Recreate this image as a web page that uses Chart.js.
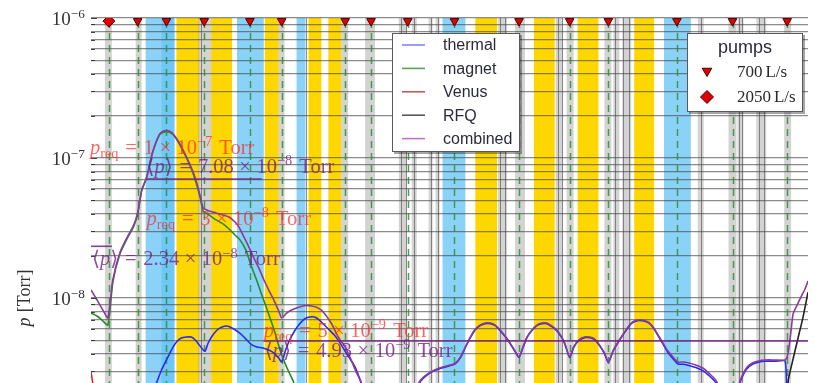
<!DOCTYPE html>
<html>
<head>
<meta charset="utf-8">
<title>Pressure profile along the beamline</title>
<script src="https://cdn.jsdelivr.net/npm/chart.js@4.4.1/dist/chart.umd.min.js"></script>
<style>
  html, body { margin: 0; padding: 0; background: #fff; overflow: hidden; }
  #frame { position: relative; width: 815px; height: 383px; overflow: hidden; }
  #plot { display: block; }
</style>
</head>
<body>
<div id="frame"><canvas id="plot" width="815" height="600"></canvas></div>
<script>
// Position s [m] along the line, pressure p [Torr]
const thermal = [[3.9,5.9e-10],[5.4,1.35e-9],[6.1,1.93e-9],[6.6,2.47e-9],[7.1,3.06e-9],[7.6,3.61e-9],[8.1,4.25e-9],[8.6,4.85e-9],[9.1,5.18e-9],[9.6,5.26e-9],[10.1,5.26e-9],[10.5,5.01e-9],[10.9,4.62e-9],[11.3,4.25e-9],[11.5,4.18e-9],[11.8,4.77e-9],[12.2,5.35e-9],[12.7,5.91e-9],[13.2,6.21e-9],[13.7,6.31e-9],[14.2,6.10e-9],[14.7,5.81e-9],[15.2,5.44e-9],[15.7,5.01e-9],[16.2,4.62e-9],[16.7,4.47e-9],[17.3,4.39e-9],[17.9,4.25e-9],[18.4,4.05e-9],[18.9,3.73e-9],[19.2,3.49e-9],[19.6,4.25e-9],[20.0,5.01e-9],[20.5,5.81e-9],[21.0,6.52e-9],[21.5,7.08e-9],[22.0,7.31e-9],[22.5,7.31e-9],[23.0,6.96e-9],[23.5,6.41e-9],[24.0,5.91e-9],[24.5,5.44e-9],[24.9,5.0e-9],[25.7,4.05e-9],[26.6,3.21e-9],[27.1,2.6e-9],[27.7,1.98e-9],[28.2,1.65e-9],[29.9,1.88e-9],[31.9,1.65e-9],[32.5,2.06e-9],[33.2,2.55e-9],[33.9,2.84e-9],[34.6,3.03e-9],[35.4,3.18e-9],[36.2,3.29e-9],[36.7,3.40e-9],[37.2,3.75e-9],[37.7,4.43e-9],[38.2,5.21e-9],[38.7,5.94e-9],[39.2,6.35e-9],[39.7,6.56e-9],[40.2,6.56e-9],[40.7,6.35e-9],[41.2,5.85e-9],[41.7,5.30e-9],[42.2,4.72e-9],[42.7,4.14e-9],[43.1,3.75e-9],[43.5,4.43e-9],[43.9,5.21e-9],[44.4,5.85e-9],[44.9,6.35e-9],[45.4,6.56e-9],[45.9,6.56e-9],[46.4,6.25e-9],[46.9,5.85e-9],[47.4,5.21e-9],[47.7,4.72e-9],[48.2,3.75e-9],[48.6,4.43e-9],[49.1,4.96e-9],[49.7,5.21e-9],[50.2,5.21e-9],[50.7,5.05e-9],[51.2,4.57e-9],[51.7,4.01e-9],[52.1,3.46e-9],[52.6,4.21e-9],[53.2,4.96e-9],[53.8,5.75e-9],[54.4,6.56e-9],[55.0,6.89e-9],[55.5,6.89e-9],[56.1,6.67e-9],[56.6,6.15e-9],[57.1,5.39e-9],[57.6,4.68e-9],[58.1,4.08e-9],[58.6,3.69e-9],[59.1,3.38e-9],[59.7,3.36e-9],[60.2,3.30e-9],[60.9,3.19e-9],[61.6,3.03e-9],[62.3,2.76e-9],[62.9,2.5e-9],[63.7,1.95e-9],[64.6,1.73e-9],[65.4,2.55e-9],[66.0,3.1e-9],[66.6,3.36e-9],[67.2,3.48e-9],[67.9,3.54e-9],[68.9,3.54e-9],[69.9,3.54e-9],[70.1,1.7e-9],[70.6,1.5e-9],[71.4,1.35e-9],[72.2,1.25e-9]];

const magnet = [[0.0,7.8e-9],[0.6,7.44e-9],[1.1,6.96e-9],[1.7,6.41e-9],[2.2,1.3e-8],[2.9,2.05e-8],[3.6,2.62e-8],[4.3,3.25e-8],[4.7,3.97e-8],[5.1,5.8e-8],[5.6,7.2e-8],[6.2,1.09e-7],[6.9,1.46e-7],[7.3,1.53e-7],[7.9,1.53e-7],[8.3,1.46e-7],[8.9,1.26e-7],[9.9,9.06e-8],[10.5,6.96e-8],[11.0,5.18e-8],[11.3,4.18e-8],[11.9,3.91e-8],[12.6,3.61e-8],[13.3,3.38e-8],[13.9,3.11e-8],[14.5,2.82e-8],[15.0,2.6e-8],[15.6,2.2e-8],[16.1,1.72e-8],[16.6,1.39e-8],[17.1,1.1e-8],[17.6,8.77e-9],[18.1,6.96e-9],[18.6,5.44e-9],[19.1,4.11e-9],[19.7,3.21e-9],[20.4,2.51e-9],[20.9,2.03e-9],[21.9,1.35e-9],[23.9,6.0e-10],[25.6,3.5e-10]];

const venus = [[0.0,2.96e-9],[0.1,2.68e-9],[0.2,2.4e-9],[0.4,1.87e-9],[0.9,1.14e-9],[1.9,5.1e-10],[4.0,2.0e-10]];

const rfq = [[67.0,1.5e-10],[69.0,4.0e-10],[69.9,1.2e-9],[70.2,2.55e-9],[70.6,3.43e-9],[71.2,5.18e-9],[71.7,7.31e-9],[72.2,1.1e-8]];

const combined = [[0.0,1.14e-8],[0.6,9.7e-9],[1.2,8.2e-9],[1.7,7.2e-9],[2.2,1.35e-8],[2.9,2.1e-8],[3.6,2.68e-8],[4.3,3.32e-8],[4.7,4.05e-8],[5.1,5.9e-8],[5.6,7.3e-8],[6.2,1.1e-7],[6.9,1.48e-7],[7.3,1.56e-7],[7.9,1.56e-7],[8.3,1.48e-7],[8.9,1.28e-7],[9.9,9.2e-8],[10.5,7.2e-8],[11.0,5.35e-8],[11.3,4.4e-8],[11.9,4.18e-8],[12.6,4.05e-8],[13.3,3.91e-8],[13.9,3.79e-8],[14.5,3.49e-8],[14.9,3.21e-8],[15.4,2.73e-8],[15.9,2.31e-8],[16.4,1.93e-8],[16.9,1.64e-8],[17.4,1.35e-8],[17.9,1.14e-8],[18.4,9.7e-9],[18.9,8.1e-9],[19.2,7.2e-9],[19.7,7.8e-9],[20.2,8.2e-9],[20.9,8.6e-9],[21.7,8.85e-9],[22.2,8.77e-9],[22.7,8.6e-9],[23.2,8.2e-9],[23.7,7.45e-9],[24.2,6.6e-9],[24.7,5.6e-9],[25.1,5.0e-9],[25.6,4.47e-9],[26.2,3.6e-9],[26.7,2.96e-9],[27.1,2.6e-9],[27.7,2.03e-9],[28.2,1.72e-9],[29.9,1.95e-9],[31.9,1.72e-9],[32.5,2.13e-9],[33.2,2.6e-9],[33.9,2.87e-9],[34.6,3.06e-9],[35.4,3.21e-9],[36.2,3.32e-9],[36.7,3.43e-9],[37.2,3.79e-9],[37.7,4.47e-9],[38.2,5.26e-9],[38.7,6.0e-9],[39.2,6.41e-9],[39.7,6.63e-9],[40.2,6.63e-9],[40.7,6.41e-9],[41.2,5.91e-9],[41.7,5.35e-9],[42.2,4.77e-9],[42.7,4.18e-9],[43.1,3.79e-9],[43.5,4.47e-9],[43.9,5.26e-9],[44.4,5.91e-9],[44.9,6.41e-9],[45.4,6.63e-9],[45.9,6.63e-9],[46.4,6.31e-9],[46.9,5.91e-9],[47.4,5.26e-9],[47.7,4.77e-9],[48.2,3.79e-9],[48.6,4.47e-9],[49.1,5.01e-9],[49.7,5.26e-9],[50.2,5.26e-9],[50.7,5.1e-9],[51.2,4.62e-9],[51.7,4.05e-9],[52.1,3.49e-9],[52.6,4.25e-9],[53.2,5.01e-9],[53.8,5.81e-9],[54.4,6.63e-9],[55.0,6.96e-9],[55.5,6.96e-9],[56.1,6.74e-9],[56.6,6.21e-9],[57.1,5.44e-9],[57.6,4.77e-9],[58.1,4.18e-9],[58.6,3.79e-9],[59.1,3.49e-9],[59.7,3.49e-9],[60.2,3.43e-9],[60.9,3.32e-9],[61.6,3.16e-9],[62.3,2.87e-9],[62.9,2.6e-9],[63.7,2.03e-9],[64.6,1.8e-9],[65.4,2.6e-9],[66.0,3.16e-9],[66.6,3.43e-9],[67.2,3.55e-9],[67.9,3.61e-9],[68.9,3.61e-9],[69.9,3.61e-9],[70.2,4.05e-9],[70.5,5.9e-9],[70.7,7.7e-9],[71.1,8.9e-9],[71.5,1.02e-8],[71.9,1.16e-8],[72.2,1.32e-8]];

// Pump positions [m] and pumping speeds [L/s]
const pumpSmall = [4.7, 7.6, 11.4, 16.0, 19.2, 25.6, 28.2, 31.9, 36.6, 43.1, 48.2, 52.1, 59.0, 64.6, 70.1];
const pumpLarge = [1.8];
const pumpSpeeds = [700, 2050];

// Element extents along s [m]
const blueZones = [[5.5,8.4],[7.1,8.4],[14.7,17.4],[20.7,21.6],[35.4,37.7],[57.7,60.4]];
const yellowZones = [[8.6,10.9],[12.1,14.2],[17.5,18.9],[21.9,23.2],[23.9,25.2],[38.7,40.9],[44.6,46.7],[49.0,51.1],[54.7,56.7]];
const grayZones = [[1.4,2.1],[4.5,5.1],[10.8,12.1],[18.9,19.5],[25.2,25.9],[27.6,28.6],[31.0,31.8],[32.3,32.8],[34.0,34.4],[34.7,35.1],[41.0,41.9],[42.7,43.7],[46.8,47.5],[47.9,48.6],[51.7,52.4],[52.6,53.2],[53.5,54.4],[61.1,61.7],[64.2,65.0],[65.1,65.7],[67.0,68.0],[69.8,70.5]];
const edgeLines = [11.1, 21.7, 31.2, 31.7, 32.5, 34.2, 34.9, 41.2, 41.7, 47.0, 47.4, 52.8, 53.6, 54.2, 61.4, 65.3, 65.6, 67.3, 67.8];

// Required and mean pressures per section [Torr]
const reqLevels = [1e-7, 3e-8, 5e-9];
const meanLevels = [7.08e-8, 2.34e-8, 4.93e-9];
const meanSpans = [[5.6, 17.2], [0.0, 2.1], [17.4, 72.2]];

// Axis
const sRange = [0, 72.2];
const decadeExponents = [-10, -9, -8, -7, -6];
const pumpMarkLevel = 9.5e-7;

// ---- layout and style ----
const SERIF = "'Liberation Serif', 'DejaVu Serif', 'DejaVu Sans', serif";
const SANS = "'Liberation Sans', Arial, sans-serif";
const reqLabelAt = [{s: -0.1, dy: -4}, {s: 5.6, dy: -6}, {s: 17.4, dy: -3}];
const meanLabelAt = [{s: 5.6, dy: -6}, {s: 0.1, dy: 19}, {s: 17.5, dy: 16}];
const REQ_COLOR = 'rgba(255,40,40,0.72)';
const MEAN_COLOR = 'rgba(118,28,132,0.78)';
const NOTE_SIZE = 20.5;

function toXY(pairs) { return pairs.map(([s, p]) => ({x: s, y: p})); }

function richLayout(ctx, parts, size) {
  const runs = [];
  let x = 0;
  parts.forEach(([k, t]) => {
    if (k === 'sp') { x += t * size; return; }
    let fs = size, style = '', dy = 0, pad = 0;
    if (k === 'it') style = 'italic ';
    if (k === 'sub') { fs = size * 0.7; dy = size * 0.2; }
    if (k === 'sup') { fs = size * 0.7; dy = -size * 0.38; }
    if (k === 'op') pad = (t === '=' ? 0.33 : 0.27) * size;
    const font = style + fs.toFixed(1) + 'px ' + SERIF;
    ctx.font = font;
    const w = ctx.measureText(t).width;
    x += pad;
    runs.push({t, font, x, dy});
    x += w + pad;
  });
  return {runs, width: x};
}

function drawRich(ctx, parts, x, y, size, color, align) {
  ctx.save();
  const {runs, width} = richLayout(ctx, parts, size);
  const x0 = align === 'right' ? x - width : align === 'center' ? x - width / 2 : x;
  ctx.fillStyle = color;
  ctx.textAlign = 'left';
  ctx.textBaseline = 'alphabetic';
  runs.forEach(r => { ctx.font = r.font; ctx.fillText(r.t, x0 + r.x, y + r.dy); });
  ctx.restore();
}

function sciParts(v, digits) {
  const e = Math.floor(Math.log10(v) + 1e-9);
  const m = (v / Math.pow(10, e)).toFixed(digits);
  return [['rm', m], ['op', '\u00d7'], ['rm', '10'], ['sup', '\u2212' + Math.abs(e)], ['sp', 0.35], ['rm', 'Torr']];
}

function trianglePath(ctx, cx, cy, r) {
  ctx.beginPath();
  ctx.moveTo(cx, cy + r);
  ctx.lineTo(cx - r * 0.866, cy - r / 2);
  ctx.lineTo(cx + r * 0.866, cy - r / 2);
  ctx.closePath();
}
function diamondPath(ctx, cx, cy, r) {
  ctx.beginPath();
  ctx.moveTo(cx, cy - r); ctx.lineTo(cx + r, cy); ctx.lineTo(cx, cy + r); ctx.lineTo(cx - r, cy);
  ctx.closePath();
}

function drawKeyBox(ctx, x0, y0, x1, y1) {
  ctx.fillStyle = 'rgba(0,0,0,0.35)';
  ctx.fillRect(x0 + 2, y0 + 2, x1 - x0, y1 - y0);
  ctx.fillStyle = '#fff';
  ctx.fillRect(x0, y0, x1 - x0, y1 - y0);
  ctx.strokeStyle = 'rgba(0,0,0,0.65)';
  ctx.lineWidth = 1;
  ctx.strokeRect(x0 + 0.5, y0 + 0.5, x1 - x0 - 1, y1 - y0 - 1);
}

const decor = {
  id: 'decor',
  beforeDraw(chart) {
    const {ctx, chartArea: a, scales: {x}} = chart;
    ctx.save();
    ctx.beginPath();
    ctx.rect(a.left, a.top, a.right - a.left, a.bottom - a.top);
    ctx.clip();
    const fillZones = (zones, color) => {
      ctx.fillStyle = color;
      zones.forEach(([s0, s1]) => {
        const p0 = x.getPixelForValue(s0), p1 = x.getPixelForValue(s1);
        ctx.fillRect(p0, a.top, p1 - p0, a.bottom - a.top);
      });
    };
    fillZones(yellowZones, '#ffd700');
    fillZones(blueZones, 'rgba(100,195,245,0.75)');
    fillZones(grayZones, 'rgba(150,150,150,0.42)');
    ctx.strokeStyle = 'rgba(95,95,95,0.7)';
    ctx.lineWidth = 1;
    edgeLines.forEach(s => {
      const px = Math.round(x.getPixelForValue(s)) + 0.5;
      ctx.beginPath(); ctx.moveTo(px, a.top); ctx.lineTo(px, a.bottom); ctx.stroke();
    });
    ctx.restore();
  },
  beforeDatasetsDraw(chart) {
    const {ctx, chartArea: a, scales: {x}} = chart;
    ctx.save();
    ctx.strokeStyle = 'rgba(45,145,45,0.85)';
    ctx.lineWidth = 1.5;
    ctx.setLineDash([7, 5]);
    pumpLarge.concat(pumpSmall).forEach(s => {
      const px = Math.round(x.getPixelForValue(s)) + 0.5;
      ctx.beginPath(); ctx.moveTo(px, a.top + 3); ctx.lineTo(px, a.bottom); ctx.stroke();
    });
    ctx.restore();
  },
  afterDraw(chart) {
    const {ctx, chartArea: a, scales: {x, y}} = chart;

    // inner tick marks on the pressure axis
    ctx.save();
    ctx.strokeStyle = 'rgba(40,40,40,0.85)';
    ctx.lineWidth = 1;
    y.ticks.forEach(t => {
      const py = Math.round(y.getPixelForValue(t.value)) + 0.5;
      ctx.beginPath(); ctx.moveTo(a.left, py); ctx.lineTo(a.left + (t.major ? 6 : 4), py); ctx.stroke();
    });
    ctx.restore();

    // decade labels
    decadeExponents.forEach(e => {
      const py = y.getPixelForValue(Math.pow(10, e));
      drawRich(ctx, [['rm', '10'], ['sup', '\u2212' + Math.abs(e)]], a.left - 6, py + 7, 19, '#333', 'right');
    });

    // axis title
    ctx.save();
    ctx.translate(30, (a.top + a.bottom) / 2);
    ctx.rotate(-Math.PI / 2);
    drawRich(ctx, [['it', 'p'], ['sp', 0.3], ['rm', '[Torr]']], 0, 0, 18, '#333', 'center');
    ctx.restore();

    // section annotations
    reqLevels.forEach((v, i) => {
      const at = reqLabelAt[i];
      const parts = [['it', 'p'], ['sub', 'req'], ['op', '=']].concat(sciParts(v, 0));
      drawRich(ctx, parts, x.getPixelForValue(at.s), y.getPixelForValue(v) + at.dy, NOTE_SIZE, REQ_COLOR, 'left');
    });
    meanLevels.forEach((v, i) => {
      const at = meanLabelAt[i];
      const parts = [['rm', '\u27e8'], ['it', 'p'], ['rm', '\u27e9'], ['op', '=']].concat(sciParts(v, 2));
      drawRich(ctx, parts, x.getPixelForValue(at.s), y.getPixelForValue(v) + at.dy, NOTE_SIZE, MEAN_COLOR, 'left');
    });

    // key for the pressure contributions
    ctx.save();
    drawKeyBox(ctx, 392, 33, 520, 152);
    const curves = chart.data.datasets.filter(d => d.inKey);
    curves.forEach((d, i) => {
      const ry = 45 + i * 23.4;
      ctx.strokeStyle = d.keyColor;
      ctx.lineWidth = 1.6;
      ctx.beginPath(); ctx.moveTo(402, ry); ctx.lineTo(425, ry); ctx.stroke();
      ctx.fillStyle = '#2a2a3a';
      ctx.font = '16px ' + SANS;
      ctx.textBaseline = 'middle';
      ctx.textAlign = 'left';
      ctx.fillText(d.label, 443, ry + 1);
    });

    // key for the pumps
    drawKeyBox(ctx, 687, 33, 803, 112);
    ctx.fillStyle = '#2a2a3a';
    ctx.font = '18px ' + SANS;
    ctx.textAlign = 'center';
    ctx.textBaseline = 'middle';
    ctx.fillText('pumps', 745, 48);
    ctx.fillStyle = '#e00000';
    ctx.strokeStyle = '#4a0000';
    ctx.lineWidth = 1;
    trianglePath(ctx, 707, 71, 5.5); ctx.fill(); ctx.stroke();
    diamondPath(ctx, 707, 97, 6.5); ctx.fill(); ctx.stroke();
    pumpSpeeds.forEach((v, i) => {
      drawRich(ctx, [['rm', String(v)], ['sp', 0.17], ['rm', 'L/s']], 737, 77 + i * 25, 17, '#2a2a2a', 'left');
    });
    ctx.restore();
  }
};

const curveStyle = (label, data, color, keyColor, order) => ({
  label, data: toXY(data), borderColor: color, keyColor, inKey: true,
  borderWidth: 1.6, pointRadius: 0, tension: 0.2, fill: false, order
});

const meanLine = (v, span) => ({
  label: 'mean', data: [{x: span[0], y: v}, {x: span[1], y: v}],
  borderColor: 'rgba(118,28,132,0.85)', borderWidth: 1.6, pointRadius: 0, tension: 0, order: 0
});

new Chart(document.getElementById('plot'), {
  type: 'line',
  data: {
    datasets: [
      curveStyle('thermal', thermal, '#2a2af0', 'rgba(90,90,255,0.75)', 5),
      curveStyle('magnet', magnet, '#2b8a2b', 'rgba(50,140,50,0.8)', 4),
      curveStyle('Venus', venus, '#d62a2a', 'rgba(190,60,60,0.85)', 3),
      curveStyle('RFQ', rfq, '#222', 'rgba(60,60,60,0.85)', 2),
      curveStyle('combined', combined, '#8a3b9c', 'rgba(175,80,190,0.8)', 1),
      ...meanLevels.map((v, i) => meanLine(v, meanSpans[i])),
      {
        label: pumpSpeeds[0] + ' L/s', data: pumpSmall.map(s => ({x: s, y: pumpMarkLevel})),
        showLine: false, pointStyle: 'triangle', pointRotation: 180, pointRadius: 5,
        pointBackgroundColor: '#e00000', pointBorderColor: '#4a0000', pointBorderWidth: 1,
        clip: 0, order: -1
      },
      {
        label: pumpSpeeds[1] + ' L/s', data: pumpLarge.map(s => ({x: s, y: pumpMarkLevel})),
        showLine: false, pointStyle: 'rectRot', pointRadius: 6,
        pointBackgroundColor: '#e00000', pointBorderColor: '#4a0000', pointBorderWidth: 1,
        clip: 0, order: -1
      }
    ]
  },
  options: {
    responsive: false,
    animation: false,
    events: [],
    layout: {padding: {left: 0, right: 2, top: 18, bottom: 22}},
    plugins: {legend: {display: false}, tooltip: {enabled: false}},
    scales: {
      x: {type: 'linear', min: sRange[0], max: sRange[1], display: false},
      y: {
        type: 'logarithmic',
        min: Math.pow(10, decadeExponents[0]),
        max: Math.pow(10, decadeExponents[decadeExponents.length - 1]),
        ticks: {display: false, autoSkip: false},
        grid: {color: 'rgba(70,70,70,0.62)', lineWidth: 1.2, drawTicks: false},
        border: {display: false},
        afterBuildTicks(scale) {
          const ticks = [];
          decadeExponents.forEach((e, i) => {
            if (i === decadeExponents.length - 1) { ticks.push({value: Number('1e' + e), major: true}); return; }
            for (let k = 1; k <= 9; k++) ticks.push({value: Number(k + 'e' + e), major: k === 1});
          });
          scale.ticks = ticks;
        },
        afterFit(scale) { scale.width = 91; }
      }
    }
  },
  plugins: [decor]
});
</script>
</body>
</html>
